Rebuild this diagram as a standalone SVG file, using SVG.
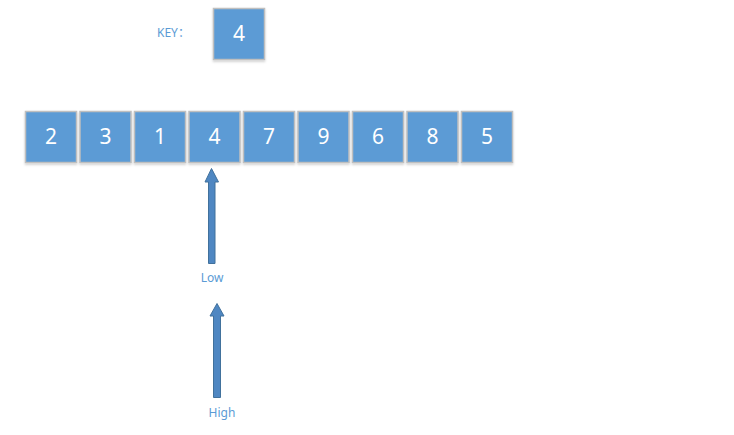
<svg xmlns="http://www.w3.org/2000/svg" width="734" height="435" viewBox="0 0 734 435">
<defs>
<filter id="sh" x="-20%" y="-20%" width="140%" height="150%">
<feDropShadow dx="0" dy="1.5" stdDeviation="1" flood-color="#000" flood-opacity="0.2"/>
</filter>
</defs>
<style>
.box{fill:#5b9bd5;stroke:#bfbfbf;stroke-width:1.5;filter:url(#sh)}
.num{fill:#fff;font-family:"Noto Sans","Liberation Sans",sans-serif;font-size:21px;text-anchor:middle}
.lbl{fill:#5b9bd5;font-family:"Noto Sans","Liberation Sans","Noto Sans CJK SC",sans-serif;font-size:12px;text-anchor:middle}
.arr{fill:#4f87c2;stroke:#41719c;stroke-width:1}
</style>
<rect width="734" height="435" fill="#fff"/>
<g id="key">
<text class="lbl" x="157" y="37" style="text-anchor:start">KEY：</text>
<rect class="box" x="213.5" y="8.5" width="51" height="51"/>
<text class="num" x="239" y="41">4</text>
</g>
<g id="n0"><rect class="box" x="25.5" y="111.5" width="51" height="51"/><text class="num" x="51" y="144">2</text></g>
<g id="n1"><rect class="box" x="80" y="111.5" width="51" height="51"/><text class="num" x="105.5" y="144">3</text></g>
<g id="n2"><rect class="box" x="134.5" y="111.5" width="51" height="51"/><text class="num" x="160" y="144">1</text></g>
<g id="n3"><rect class="box" x="189" y="111.5" width="51" height="51"/><text class="num" x="214.5" y="144">4</text></g>
<g id="n4"><rect class="box" x="243.5" y="111.5" width="51" height="51"/><text class="num" x="269" y="144">7</text></g>
<g id="n5"><rect class="box" x="298" y="111.5" width="51" height="51"/><text class="num" x="323.5" y="144">9</text></g>
<g id="n6"><rect class="box" x="352.5" y="111.5" width="51" height="51"/><text class="num" x="378" y="144">6</text></g>
<g id="n7"><rect class="box" x="407" y="111.5" width="51" height="51"/><text class="num" x="432.5" y="144">8</text></g>
<g id="n8"><rect class="box" x="461.5" y="111.5" width="51" height="51"/><text class="num" x="487" y="144">5</text></g>
<g id="connectors">
<polygon class="arr" points="211.5,168.5 218.5,182 215,182 215,263.5 208.5,263.5 208.5,182 205,182"/>
<polygon class="arr" points="217,303.5 224,316 220.5,316 220.5,397.5 213.5,397.5 213.5,316 210,316"/>
</g>
<g id="low"><text class="lbl" x="212" y="282">Low</text></g>
<g id="high"><text class="lbl" x="222" y="417">High</text></g>
</svg>
